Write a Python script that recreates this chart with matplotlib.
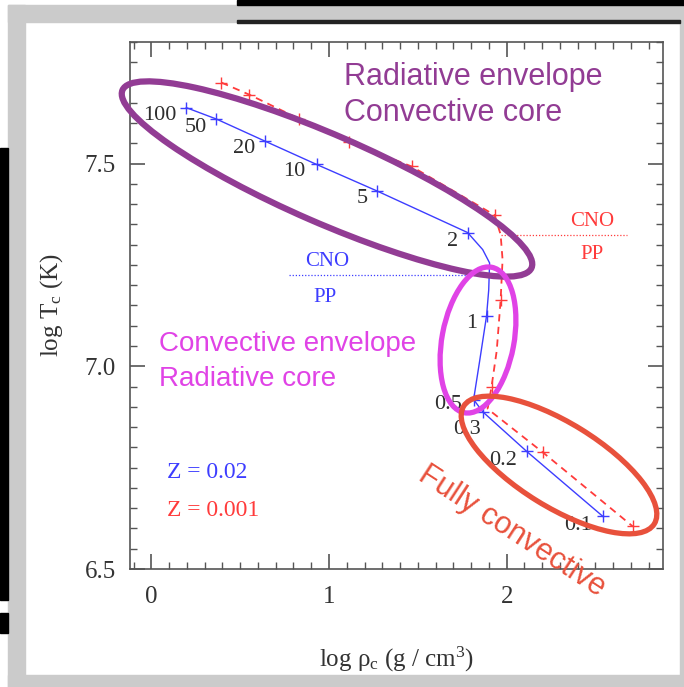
import numpy as np
import matplotlib
matplotlib.use("Agg")
import matplotlib.pyplot as plt
from matplotlib.patches import Ellipse, Rectangle
from matplotlib.transforms import Affine2D
from matplotlib.ticker import MultipleLocator

plt.rcParams['font.family'] = ['Liberation Serif', 'DejaVu Serif']
plt.rcParams['mathtext.fontset'] = 'custom'
plt.rcParams['mathtext.rm'] = 'Liberation Serif'
plt.rcParams['mathtext.it'] = 'Liberation Serif:italic'

# Z = 0.02 track (line points, markers at the labelled masses)
blue_rho = [0.197, 0.366, 0.642, 0.930, 1.268, 1.780, 1.865, 1.904, 1.899, 1.887,
            1.848, 1.814, 1.865, 2.113, 2.541]
blue_T = [7.638, 7.610, 7.555, 7.498, 7.433, 7.330, 7.288, 7.255, 7.188, 7.125,
          7.013, 6.918, 6.888, 6.790, 6.630]
blue_marks = [0, 1, 2, 3, 4, 5, 9, 11, 12, 13, 14]

# Z = 0.001 track
red_rho = [0.394, 0.552, 0.834, 1.115, 1.465, 1.932, 1.966, 1.977, 1.966, 1.944,
           1.915, 1.893, 2.203, 2.710]
red_T = [7.700, 7.670, 7.610, 7.553, 7.493, 7.373, 7.325, 7.263, 7.163, 7.038,
         6.950, 6.895, 6.788, 6.605]
red_marks = [0, 1, 2, 3, 4, 5, 8, 10, 12, 13]

# masses (Msun) and where their labels sit
masses = ['100', '50', '20', '10', '5', '2', '1', '0.5', '0.3', '0.2', '0.1']
mass_lab_x = [0.045, 0.248, 0.524, 0.806, 1.189, 1.696, 1.803, 1.668, 1.775, 1.977, 2.40]
mass_lab_y = [7.618, 7.588, 7.538, 7.480, 7.413, 7.308, 7.105, 6.905, 6.845, 6.768, 6.608]

# CNO / PP dividing lines
blue_cno_x = [0.777, 1.904]
blue_cno_T = 7.225
red_cno_x = [1.970, 2.680]
red_cno_T = 7.325

BLUE = '#3d3dff'
RED = '#ff3b3b'
PURPLE = '#923c94'
MAGENTA = '#e043e6'
ORANGE = '#e8513c'

fig = plt.figure(figsize=(6.84, 6.87), dpi=100)
fig.patch.set_facecolor('white')

# pixel coordinates (top-left origin) for the screenshot frame and the hand drawn ellipses
px = Affine2D().scale(1 / 684, -1 / 687).translate(0, 1) + fig.transFigure

# screenshot frame
for (x0, y0, w, h, c) in [(8, 5, 676, 17, '#cbcbcb'), (8, 5, 17, 682, '#cbcbcb'),
                           (8, 675, 676, 12, '#cbcbcb'), (680, 5, 4, 682, '#cbcbcb'),
                           (237, 0, 447, 5, 'black'), (237, 20, 443, 3, '#222222'),
                           (0, 148, 8, 452, 'black'), (0, 613, 8, 20, 'black')]:
    fig.patches.append(Rectangle((x0, y0), w, h, transform=px, color=c, zorder=0))

ax = fig.add_axes([130 / 684, 1 - 569 / 687, 533 / 684, 527 / 687])
ax.set_xlim(-0.12, 2.88)
ax.set_ylim(6.5, 7.8)

ax.plot(blue_rho, blue_T, color=BLUE, lw=1.0)
ax.plot([blue_rho[i] for i in blue_marks], [blue_T[i] for i in blue_marks], '+',
        color=BLUE, ms=8, mew=1.0)
ax.plot(red_rho, red_T, color=RED, lw=1.3, ls=(0, (4, 3)))
ax.plot([red_rho[i] for i in red_marks], [red_T[i] for i in red_marks], '+',
        color=RED, ms=8, mew=1.0)

ax.plot(blue_cno_x, [blue_cno_T] * 2, color=BLUE, lw=0.9, ls=(0, (1, 1.5)))
ax.plot(red_cno_x, [red_cno_T] * 2, color=RED, lw=0.9, ls=(0, (1, 1.5)))
ax.text(0.99, 7.258, 'CNO', color=BLUE, fontsize=15, ha='center', va='center')
ax.text(0.975, 7.170, 'PP', color=BLUE, fontsize=15, ha='center', va='center')
ax.text(2.479, 7.357, 'CNO', color=RED, fontsize=15, ha='center', va='center')
ax.text(2.479, 7.275, 'PP', color=RED, fontsize=15, ha='center', va='center')

for m, xl, yl in zip(masses, mass_lab_x, mass_lab_y):
    ax.text(xl, yl, m, color='#2e2e2e', fontsize=16, ha='center', va='center')

ax.text(0.09, 6.738, 'Z = 0.02', color=BLUE, fontsize=17, va='center')
ax.text(0.09, 6.645, 'Z = 0.001', color=RED, fontsize=17, va='center')

ax.set_xlabel(r'log ρ$_\mathrm{c}$ (g / cm$^3$)', fontsize=18, color='#333333', labelpad=27)
ax.set_ylabel(r'log T$_\mathrm{c}$ (K)', fontsize=18, color='#333333', labelpad=14)

ax.xaxis.set_major_locator(MultipleLocator(1))
ax.xaxis.set_minor_locator(MultipleLocator(0.1))
ax.yaxis.set_major_locator(MultipleLocator(0.5))
ax.yaxis.set_minor_locator(MultipleLocator(0.05))
ax.set_yticks([6.5, 7.0, 7.5])
ax.set_yticklabels(['6.5', '7.0', '7.5'])
ax.tick_params(which='both', direction='in', top=True, right=True, color='#555555',
               labelsize=18, labelcolor='#333333')
ax.tick_params(which='major', length=11, width=1.2, pad=12)
ax.tick_params(axis='y', which='major', pad=10)
ax.tick_params(which='minor', length=5, width=1.0)
for s in ax.spines.values():
    s.set_color('#555555')
    s.set_linewidth(1.2)

# region annotations
sans = ['Liberation Sans', 'DejaVu Sans']
ax.text(1.087, 7.713, 'Radiative envelope', color=PURPLE, fontsize=22, family=sans, va='center')
ax.text(1.087, 7.625, 'Convective core', color=PURPLE, fontsize=22, family=sans, va='center')
ax.text(0.045, 7.055, 'Convective envelope', color=MAGENTA, fontsize=20, family=sans, va='center')
ax.text(0.045, 6.968, 'Radiative core', color=MAGENTA, fontsize=20, family=sans, va='center')
ax.text(2.028, 6.593, 'Fully convective', color=ORANGE, fontsize=22, family=sans,
        rotation=-33, ha='center', va='center', rotation_mode='anchor', clip_on=False)

for (cx, cy, w, h, ang, c, lw) in [(327, 179, 446, 88, 23.5, PURPLE, 4.5),
                                   (478, 340, 72, 148, 10.6, MAGENTA, 3.8),
                                   (559, 465, 224, 84, 31.7, ORANGE, 3.8)]:
    fig.patches.append(Ellipse((cx, cy), w, h, angle=ang, transform=px, fill=False,
                               edgecolor=c, lw=lw, zorder=5))

fig.savefig('out.png', dpi=100)
